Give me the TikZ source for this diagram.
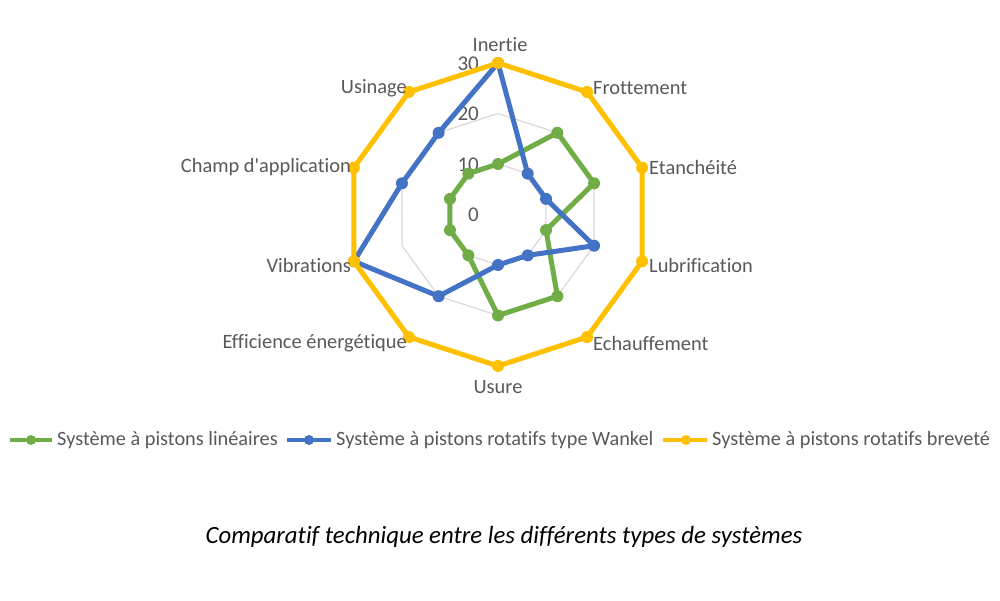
\documentclass[tikz,border=0pt]{standalone}
\usepackage{fontspec}
\setmainfont{Carlito}[Ligatures={NoCommon,NoContextual,TeXOff}]
\usetikzlibrary{calc}
\definecolor{sgreen}{HTML}{70AD47}
\definecolor{sblue}{HTML}{4472C4}
\definecolor{syellow}{HTML}{FFC000}
\definecolor{txtgray}{HTML}{595959}
\definecolor{gridgray}{HTML}{D9D9D9}
\begin{document}
\begin{tikzpicture}[x=1pt,y=1pt,
  gridline/.style={draw=gridgray,line width=1.2pt},
  series/.style={line width=5pt,line join=round,draw=#1},
  mk/.style={circle,fill=#1,inner sep=0pt,minimum size=12pt},
  axlabel/.style={font=\fontsize{20.4}{24}\selectfont,text=txtgray,inner sep=1pt},
  ticklabel/.style={font=\fontsize{21}{24}\selectfont,text=txtgray,anchor=east,inner sep=0pt},
  legtext/.style={font=\fontsize{20.3}{24}\selectfont,text=txtgray,anchor=west,inner sep=0pt},
  legline/.style={line width=4pt,draw=#1}]
\useasboundingbox (0,0) rectangle (1000,600);
\fill[white] (0,0) rectangle (1000,600);
\coordinate (C) at (498,385.5);
\def\u{5.05}
% grid rings
\foreach \r in {1,2,3}{
  \foreach \i in {0,...,9}{
    \coordinate (R\r-\i) at ($(C)+({90-36*\i}:{\r*10*\u})$);
  }
}
\foreach \r in {1,2,3}{
  \draw[gridline] (R\r-0) -- (R\r-1) -- (R\r-2) -- (R\r-3) -- (R\r-4) -- (R\r-5) -- (R\r-6) -- (R\r-7) -- (R\r-8) -- (R\r-9) -- cycle;
}
% tick labels
\node[ticklabel] (t0) at (479,385.5) {0};
\node[ticklabel] (t10) at (479,435.5) {10};
\node[ticklabel] (t20) at (479,486) {20};
\node[ticklabel] (t30) at (479,536.5) {30};
% series points
\foreach \v [count=\i from 0] in {10,20,20,10,20,20,10,10,10,10}
  \coordinate (g\i) at ($(C)+({90-36*\i}:{\v*\u})$);
\foreach \v [count=\i from 0] in {30,10,10,20,10,10,20,30,20,20}
  \coordinate (b\i) at ($(C)+({90-36*\i}:{\v*\u})$);
\foreach \v [count=\i from 0] in {30,30,30,30,30,30,30,30,30,30}
  \coordinate (y\i) at ($(C)+({90-36*\i}:{\v*\u})$);
% green
\draw[series=sgreen] (g0) -- (g1) -- (g2) -- (g3) -- (g4) -- (g5) -- (g6) -- (g7) -- (g8) -- (g9) -- cycle;
\foreach \i in {0,...,9} \node[mk=sgreen] (gm\i) at (g\i) {};
% blue
\draw[series=sblue] (b0) -- (b1) -- (b2) -- (b3) -- (b4) -- (b5) -- (b6) -- (b7) -- (b8) -- (b9) -- cycle;
\foreach \i in {0,...,9} \node[mk=sblue] (bm\i) at (b\i) {};
% yellow
\draw[series=syellow] (y0) -- (y1) -- (y2) -- (y3) -- (y4) -- (y5) -- (y6) -- (y7) -- (y8) -- (y9) -- cycle;
\foreach \i in {0,...,9} \node[mk=syellow] (ym\i) at (y\i) {};
% axis labels
\node[axlabel,anchor=south] (l0) at (500,547) {Inertie};
\node[axlabel,anchor=west] (l1) at (592,512) {Frottement};
\node[axlabel,anchor=west] (l2) at (648,433) {Etanchéité};
\node[axlabel,anchor=west] (l3) at (648,335) {Lubrification};
\node[axlabel,anchor=west] (l4) at (592,257) {Echauffement};
\node[axlabel,anchor=north] (l5) at (498,221) {Usure};
\node[axlabel,anchor=east] (l6) at (408,257) {Efficience énergétique};
\node[axlabel,anchor=east] (l7) at (352,335) {Vibrations};
\node[axlabel,anchor=east] (l8) at (352,433) {Champ d'application};
\node[axlabel,anchor=east] (l9) at (408,512) {Usinage};
% legend
\coordinate (lg1a) at (10,160); \coordinate (lg1b) at (52,160);
\draw[legline=sgreen] (lg1a) -- (lg1b);
\node[mk=sgreen,minimum size=10pt] (lgm1) at (31,160) {};
\node[legtext] (lt1) at (57,160) {Système à pistons linéaires};
\coordinate (lg2a) at (287,160); \coordinate (lg2b) at (331,160);
\draw[legline=sblue] (lg2a) -- (lg2b);
\node[mk=sblue,minimum size=10pt] (lgm2) at (309,160) {};
\node[legtext] (lt2) at (336,160) {Système à pistons rotatifs type Wankel};
\coordinate (lg3a) at (663,160); \coordinate (lg3b) at (707,160);
\draw[legline=syellow] (lg3a) -- (lg3b);
\node[mk=syellow,minimum size=10pt] (lgm3) at (686,160) {};
\node[legtext] (lt3) at (712,160) {Système à pistons rotatifs breveté};
% caption
\node[font=\fontsize{24.8}{28}\selectfont\itshape,text=black] (cap) at (504,63) {Comparatif technique entre les différents types de systèmes};
\end{tikzpicture}
\end{document}
